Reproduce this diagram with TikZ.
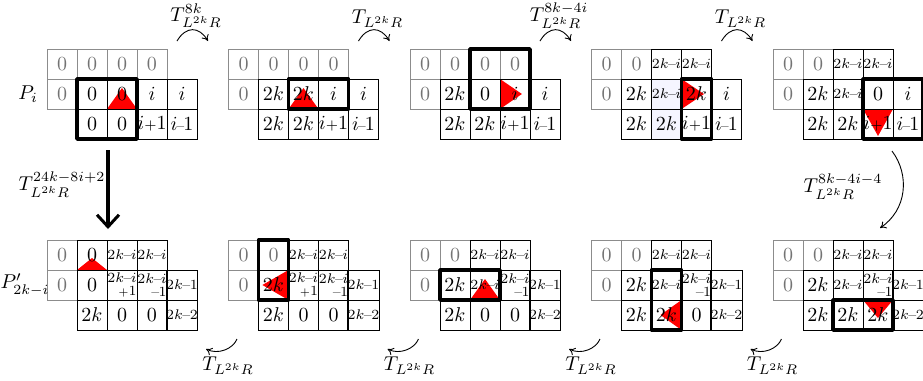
\documentclass[tikz,border=0pt]{standalone}
\usetikzlibrary{calc,backgrounds,arrows.meta}
\tikzset{
  cell/.style={draw=black, line width=0.5pt, minimum width=15pt, minimum height=15pt, inner sep=0pt, outer sep=0pt, anchor=center},
  gcell/.style={cell, draw=black!45, text=black!55},
  scell/.style={cell, font=\scriptsize},
  stk/.style={cell, font=\scriptsize, align=right},
  tint/.style={fill=blue!4},
  hl/.style={draw=black, line width=1.7pt, line join=round},
  tarc/.style={-{To[length=3pt,width=4pt]}, line width=0.45pt},
  big/.style={-{Straight Barb[length=6pt,width=11pt,line width=1.5pt]}, line width=1.6pt},
}
\newcommand\mkc[5]{\node[#4] (#1-#2-#3) at ($(#1)+(30*#3+15,30*#2-15)$) {#5};}
\newcommand\dsh{\kern-0.3pt\textendash\kern-0.3pt}
\newcommand\tki{$2k$\dsh$i$}
\newcommand\tkp{$2k$\dsh$i$\\[-1.8pt]${\scriptscriptstyle +}1$}
\newcommand\tkm{$2k$\dsh$i$\\[-1.8pt]\dsh$1$}
\newcommand\ipo{$i{\scriptstyle +}1$}
\newcommand\imo{$i$\kern-0.5pt{\scriptsize\textendash}\kern-0.5pt$1$}
\newcommand\tko{$2k$\dsh$1$}
\newcommand\tkt{$2k$\dsh$2$}
\newcommand\triU[2]{\fill[red] (#1.south west) -- (#1.south east) -- ($(#1.north)!#2!(#1.south)$) -- cycle;}
\newcommand\triD[2]{\fill[red] (#1.north west) -- (#1.north east) -- ($(#1.north)!#2!(#1.south)$) -- cycle;}
\newcommand\triR[2]{\fill[red] (#1.north west) -- (#1.south west) -- ($(#1.west)!#2!(#1.east)$) -- cycle;}
\newcommand\triL[2]{\fill[red] (#1.north east) -- (#1.south east) -- ($(#1.east)!#2!(#1.west)$) -- cycle;}
\begin{document}
\begin{tikzpicture}[x=0.5pt,y=-0.5pt]
\useasboundingbox (0,0) rectangle (923,381);
% grid origins
\coordinate (ga) at (47,49);
\coordinate (gb) at (228.5,49);
\coordinate (gc) at (410,49);
\coordinate (gd) at (591.5,49);
\coordinate (ge) at (773,49);
\coordinate (ba) at (47,240);
\coordinate (bb) at (228.5,240);
\coordinate (bc) at (410,240);
\coordinate (bd) at (591.5,240);
\coordinate (be) at (773,240);

% ---------- top row ----------
% G1
\mkc{ga}{1}{0}{gcell}{$0$}\mkc{ga}{1}{1}{gcell}{$0$}\mkc{ga}{1}{2}{gcell}{$0$}\mkc{ga}{1}{3}{gcell}{$0$}
\mkc{ga}{2}{0}{gcell}{$0$}\mkc{ga}{2}{1}{cell}{$0$}\mkc{ga}{2}{2}{cell}{$0$}\mkc{ga}{2}{3}{cell}{$i$}\mkc{ga}{2}{4}{cell}{$i$}
\mkc{ga}{3}{1}{cell}{$0$}\mkc{ga}{3}{2}{cell}{$0$}\mkc{ga}{3}{3}{cell}{\ipo}\mkc{ga}{3}{4}{cell}{\imo}
% G2
\mkc{gb}{1}{0}{gcell}{$0$}\mkc{gb}{1}{1}{gcell}{$0$}\mkc{gb}{1}{2}{gcell}{$0$}\mkc{gb}{1}{3}{gcell}{$0$}
\mkc{gb}{2}{0}{gcell}{$0$}\mkc{gb}{2}{1}{cell}{$2k$}\mkc{gb}{2}{2}{cell}{$2k$}\mkc{gb}{2}{3}{cell}{$i$}\mkc{gb}{2}{4}{cell}{$i$}
\mkc{gb}{3}{1}{cell}{$2k$}\mkc{gb}{3}{2}{cell}{$2k$}\mkc{gb}{3}{3}{cell}{\ipo}\mkc{gb}{3}{4}{cell}{\imo}
% G3
\mkc{gc}{1}{0}{gcell}{$0$}\mkc{gc}{1}{1}{gcell}{$0$}\mkc{gc}{1}{2}{gcell}{$0$}\mkc{gc}{1}{3}{gcell}{$0$}
\mkc{gc}{2}{0}{gcell}{$0$}\mkc{gc}{2}{1}{cell}{$2k$}\mkc{gc}{2}{2}{cell}{$0$}\mkc{gc}{2}{3}{cell}{$i$}\mkc{gc}{2}{4}{cell}{$i$}
\mkc{gc}{3}{1}{cell}{$2k$}\mkc{gc}{3}{2}{cell}{$2k$}\mkc{gc}{3}{3}{cell}{\ipo}\mkc{gc}{3}{4}{cell}{\imo}
% G4
\mkc{gd}{1}{0}{gcell}{$0$}\mkc{gd}{1}{1}{gcell}{$0$}\mkc{gd}{1}{2}{scell}{\tki}\mkc{gd}{1}{3}{scell}{\tki}
\mkc{gd}{2}{0}{gcell}{$0$}\mkc{gd}{2}{1}{cell}{$2k$}\mkc{gd}{2}{2}{scell,tint}{\tki}\mkc{gd}{2}{3}{cell}{$2k$}\mkc{gd}{2}{4}{cell}{$i$}
\mkc{gd}{3}{1}{cell}{$2k$}\mkc{gd}{3}{2}{cell,tint}{$2k$}\mkc{gd}{3}{3}{cell}{\ipo}\mkc{gd}{3}{4}{cell}{\imo}
% G5
\mkc{ge}{1}{0}{gcell}{$0$}\mkc{ge}{1}{1}{gcell}{$0$}\mkc{ge}{1}{2}{scell}{\tki}\mkc{ge}{1}{3}{scell}{\tki}
\mkc{ge}{2}{0}{gcell}{$0$}\mkc{ge}{2}{1}{cell}{$2k$}\mkc{ge}{2}{2}{scell}{\tki}\mkc{ge}{2}{3}{cell}{$0$}\mkc{ge}{2}{4}{cell}{$i$}
\mkc{ge}{3}{1}{cell}{$2k$}\mkc{ge}{3}{2}{cell}{$2k$}\mkc{ge}{3}{3}{cell}{\ipo}\mkc{ge}{3}{4}{cell}{\imo}

% ---------- bottom row ----------
% B1
\mkc{ba}{1}{0}{gcell}{$0$}\mkc{ba}{1}{1}{cell}{$0$}\mkc{ba}{1}{2}{scell}{\tki}\mkc{ba}{1}{3}{scell}{\tki}
\mkc{ba}{2}{0}{gcell}{$0$}\mkc{ba}{2}{1}{cell}{$0$}\mkc{ba}{2}{2}{stk}{\tkp}\mkc{ba}{2}{3}{stk}{\tkm}\mkc{ba}{2}{4}{scell}{\tko}
\mkc{ba}{3}{1}{cell}{$2k$}\mkc{ba}{3}{2}{cell}{$0$}\mkc{ba}{3}{3}{cell}{$0$}\mkc{ba}{3}{4}{scell}{\tkt}
% B2
\mkc{bb}{1}{0}{gcell}{$0$}\mkc{bb}{1}{1}{gcell}{$0$}\mkc{bb}{1}{2}{scell}{\tki}\mkc{bb}{1}{3}{scell}{\tki}
\mkc{bb}{2}{0}{gcell}{$0$}\mkc{bb}{2}{1}{cell}{$2k$}\mkc{bb}{2}{2}{stk}{\tkp}\mkc{bb}{2}{3}{stk}{\tkm}\mkc{bb}{2}{4}{scell}{\tko}
\mkc{bb}{3}{1}{cell}{$2k$}\mkc{bb}{3}{2}{cell}{$0$}\mkc{bb}{3}{3}{cell}{$0$}\mkc{bb}{3}{4}{scell}{\tkt}
% B3
\mkc{bc}{1}{0}{gcell}{$0$}\mkc{bc}{1}{1}{gcell}{$0$}\mkc{bc}{1}{2}{scell}{\tki}\mkc{bc}{1}{3}{scell}{\tki}
\mkc{bc}{2}{0}{gcell}{$0$}\mkc{bc}{2}{1}{cell}{$2k$}\mkc{bc}{2}{2}{scell}{\tki}\mkc{bc}{2}{3}{stk}{\tkm}\mkc{bc}{2}{4}{scell}{\tko}
\mkc{bc}{3}{1}{cell}{$2k$}\mkc{bc}{3}{2}{cell}{$0$}\mkc{bc}{3}{3}{cell}{$0$}\mkc{bc}{3}{4}{scell}{\tkt}
% B4
\mkc{bd}{1}{0}{gcell}{$0$}\mkc{bd}{1}{1}{gcell}{$0$}\mkc{bd}{1}{2}{scell}{\tki}\mkc{bd}{1}{3}{scell}{\tki}
\mkc{bd}{2}{0}{gcell}{$0$}\mkc{bd}{2}{1}{cell}{$2k$}\mkc{bd}{2}{2}{scell}{\tki}\mkc{bd}{2}{3}{stk}{\tkm}\mkc{bd}{2}{4}{scell}{\tko}
\mkc{bd}{3}{1}{cell}{$2k$}\mkc{bd}{3}{2}{cell}{$2k$}\mkc{bd}{3}{3}{cell}{$0$}\mkc{bd}{3}{4}{scell}{\tkt}
% B5
\mkc{be}{1}{0}{gcell}{$0$}\mkc{be}{1}{1}{gcell}{$0$}\mkc{be}{1}{2}{scell}{\tki}\mkc{be}{1}{3}{scell}{\tki}
\mkc{be}{2}{0}{gcell}{$0$}\mkc{be}{2}{1}{cell}{$2k$}\mkc{be}{2}{2}{scell}{\tki}\mkc{be}{2}{3}{stk}{\tkm}\mkc{be}{2}{4}{scell}{\tko}
\mkc{be}{3}{1}{cell}{$2k$}\mkc{be}{3}{2}{cell}{$2k$}\mkc{be}{3}{3}{cell}{$2k$}\mkc{be}{3}{4}{scell}{\tkt}

% red markers (behind text)
\begin{pgfonlayer}{background}
\triU{ga-2-2}{0.3}
\triU{gb-2-2}{0.3}
\triR{gc-2-3}{0.73}
\triR{gd-2-3}{0.75}
\triD{ge-3-3}{0.9}
\triD{be-3-3}{0.6}
\triL{bd-3-2}{0.7}
\triU{bc-2-2}{0.3}
\triL{bb-2-1}{0.87}
\triU{ba-1-1}{0.6}
\end{pgfonlayer}

% highlighted boxes
\draw[hl] (ga-2-1.north west) rectangle (ga-3-2.south east);
\draw[hl] (gb-2-2.north west) rectangle (gb-2-3.south east);
\draw[hl] (gc-1-2.north west) rectangle (gc-2-3.south east);
\draw[hl] (gd-2-3.north west) rectangle (gd-3-3.south east);
\draw[hl] (ge-2-3.north west) rectangle (ge-3-4.south east);
\draw[hl] (be-3-2.north west) rectangle (be-3-3.south east);
\draw[hl] (bd-2-2.north west) rectangle (bd-3-2.south east);
\draw[hl] (bc-2-1.north west) rectangle (bc-2-2.south east);
\draw[hl] (bb-1-1.north west) rectangle (bb-2-1.south east);

% row labels
\node (pi) at (28,94) {$P_i$};
\node (pp) at (25,285) {$P'_{2k-i}$};

% top transitions
\foreach \k/\lab/\ly in {0/{T^{8k}_{L^{2k}R}}/16, 1/{T_{L^{2k}R}}/19, 2/{T^{8k-4i}_{L^{2k}R}}/16, 3/{T_{L^{2k}R}}/19}{
  \coordinate (ts\k) at (177+181.5*\k,41);
  \coordinate (te\k) at (208+181.5*\k,41);
  \draw[tarc] (ts\k) .. controls ($(ts\k)+(9,-15)$) and ($(te\k)+(-9,-15)$) .. (te\k);
  \node (tl\k) at (196+181.5*\k,\ly) {$\lab$};
}
% bottom transitions
\foreach \k in {0,1,2,3}{
  \coordinate (bs\k) at (237+181.5*\k,339);
  \coordinate (bt\k) at (206+181.5*\k,349);
  \draw[tarc] (bs\k) .. controls ($(bs\k)+(-4,10)$) and ($(bt\k)+(12,6)$) .. (bt\k);
  \node (bl\k) at (228+181.5*\k,366) {$T_{L^{2k}R}$};
}

% vertical arrow
\coordinate (va) at (108,150);
\coordinate (vb) at (108,229);
\draw[big] (va) -- (vb);
\node (vl) at (62,185) {$T^{24k-8i+2}_{L^{2k}R}$};

% right curved arrow
\coordinate (ra) at (892,151);
\coordinate (rb) at (880,228);
\draw[tarc] (ra) .. controls (910,175) and (907,210) .. (rb);
\node (rl) at (843,187) {$T^{8k-4i-4}_{L^{2k}R}$};
\end{tikzpicture}
\end{document}
